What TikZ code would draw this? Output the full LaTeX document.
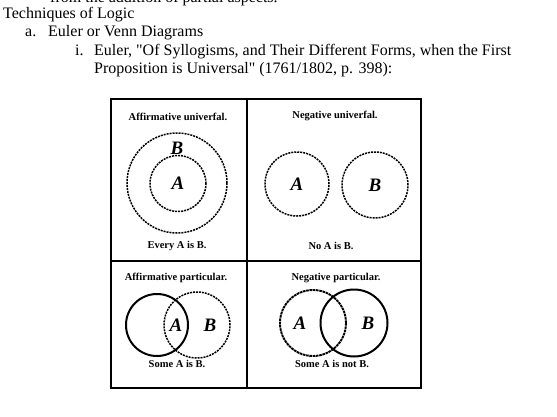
\documentclass[tikz,border=0pt]{standalone}
\usepackage{fontspec}
\setmainfont{Liberation Serif}
\usepackage{tikz}

\begin{document}
\begin{tikzpicture}[x=1pt,y=-1pt,
  body text/.style={anchor=base west,inner sep=0pt,font=\fontsize{16}{18}\selectfont},
  title node/.style={inner sep=0pt,font=\fontsize{10.5}{11}\selectfont\bfseries},
  letter node/.style={inner sep=0pt,font=\fontsize{19}{20}\selectfont\bfseries\itshape},
  set circle/.style={circle,draw,inner sep=0pt,line width=1.5pt,dash pattern=on 2pt off 1pt},
  solid circle/.style={circle,draw,inner sep=0pt,line width=2pt},
  frame line/.style={line width=1.4pt}]

  \useasboundingbox (0,0) rectangle (557,416);

  % text above the figure
  \begin{scope}
    \clip (0,0) rectangle (557,416);
    \node[body text] (cut) at (50,2) {from the addition of partial aspects.};
  \end{scope}
  \node[body text] (head) at (3,18.5) {Techniques of Logic};
  \node[body text] (a) at (25,36.5) {a.};
  \node[body text] (euler) at (48,36.5) {Euler or Venn Diagrams};
  \node[body text] (i) at (75,55) {i.};
  \node[body text] (ref1) at (94,55) {Euler, \textquotedbl Of Syllogisms, and Their Different Forms, when the First};
  \node[body text] (ref2) at (94,73.3) {Proposition is Universal\textquotedbl{} (1761/1802, p. 398):};

  % the plate
  \draw[frame line] (111,99) rectangle (421,388);
  \draw[frame line] (247,99) -- (247,388);
  \draw[frame line] (111,261) -- (421,261);

  % affirmative universal
  \node[title node] (t1) at (178,117) {Affirmative univerfal.};
  \node[set circle,minimum size=100pt] (B1) at (177,183) {};
  \node[set circle,minimum size=56pt,letter node] (A1) at (178,183.5) {A};
  \node[letter node] (lb1) at (177,148) {B};
  \node[title node] (c1) at (177,246) {Every A is B.};

  % negative universal
  \node[title node] (t2) at (335,116) {Negative univerfal.};
  \node[set circle,minimum size=64pt,letter node] (A2) at (297,184) {A};
  \node[set circle,minimum size=66pt,letter node] (B2) at (375,185) {B};
  \node[title node] (c2) at (331,246) {No A is B.};

  % affirmative particular
  \node[title node] (t3) at (176,278) {Affirmative particular.};
  \node[solid circle,minimum size=62pt] (A3) at (157,325) {};
  \node[set circle,minimum size=66pt] (B3) at (197,325) {};
  \node[letter node] (la3) at (176,325) {A};
  \node[letter node] (lb3) at (210,325) {B};
  \node[title node] (c3) at (177,364) {Some A is B.};

  % negative particular
  \node[title node] (t4) at (336,278) {Negative particular.};
  \node[set circle,line width=1.9pt,dash pattern=on 2.6pt off 0.7pt,minimum size=66pt] (A4) at (313,323) {};
  \node[solid circle,minimum size=67pt] (B4) at (354,323) {};
  \node[letter node] (la4) at (300,323) {A};
  \node[letter node] (lb4) at (368,323) {B};
  \node[title node] (c4) at (332,364) {Some A is not B.};

\end{tikzpicture}
\end{document}
